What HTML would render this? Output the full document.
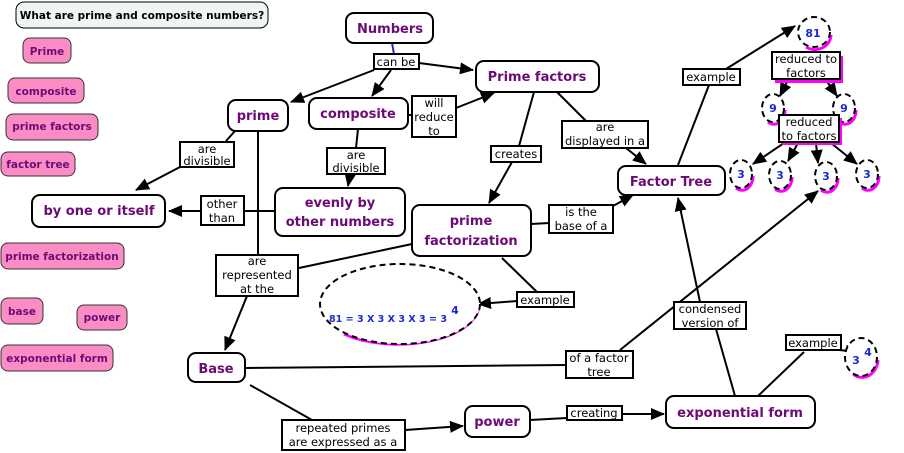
<!DOCTYPE html>
<html><head><meta charset="utf-8"><style>
html,body{margin:0;padding:0;background:#fff;width:904px;height:453px;overflow:hidden}
svg{display:block}
.n{fill:#fff;stroke:#000;stroke-width:2}
.nt{font-family:"DejaVu Sans",Verdana,sans-serif;font-weight:bold;font-size:13px;fill:#6e0a78;text-anchor:middle}
.p{fill:#fb8cc4;stroke:#333;stroke-width:1}
.pt{font-family:"DejaVu Sans",sans-serif;font-weight:bold;font-size:10.5px;fill:#6e0a78;text-anchor:middle}
.l{fill:#fff;stroke:#000;stroke-width:2}
.lt{font-family:"DejaVu Sans",sans-serif;font-size:11.5px;fill:#000;text-anchor:middle}
.c{stroke:#000;stroke-width:2;fill:none}
.a{stroke:#000;stroke-width:2;fill:none;marker-end:url(#ar)}
.d{fill:#fff;stroke:#000;stroke-width:2;stroke-dasharray:6,4}
.sh{fill:none;stroke:#f0f;stroke-width:3}
.ct{font-family:"DejaVu Sans",sans-serif;font-weight:bold;font-size:11px;fill:#1a2ad0;text-anchor:middle}
</style></head><body>
<svg width="904" height="453" viewBox="0 0 904 453" xmlns="http://www.w3.org/2000/svg">
<defs><marker id="ar" markerWidth="14" markerHeight="12" refX="13" refY="6" orient="auto" markerUnits="userSpaceOnUse"><path d="M0,0 L14,6 L0,12 z" fill="#000"/></marker></defs>

<!-- connectors -->
<line x1="392" y1="43" x2="394" y2="54" stroke="#1a2ad0" stroke-width="2"/>
<line class="a" x1="374" y1="70" x2="291" y2="102"/>
<line class="a" x1="391" y1="70" x2="372" y2="96"/>
<line class="a" x1="419" y1="63" x2="473" y2="70"/>
<line class="c" x1="408" y1="115" x2="412" y2="115"/>
<line class="a" x1="456" y1="108" x2="494" y2="93"/>
<line class="c" x1="235" y1="131" x2="226" y2="141"/>
<line class="a" x1="180" y1="167" x2="136" y2="190"/>
<line class="c" x1="358" y1="129" x2="356" y2="148"/>
<line class="a" x1="350" y1="175" x2="348" y2="186"/>
<line class="c" x1="275" y1="211" x2="244" y2="211"/>
<line class="a" x1="201" y1="211" x2="169" y2="211"/>
<line class="c" x1="258" y1="131" x2="258" y2="255"/>
<line class="c" x1="412" y1="244" x2="299" y2="268"/>
<line class="a" x1="247" y1="296" x2="225" y2="350"/>
<line class="c" x1="534" y1="92" x2="519" y2="146"/>
<line class="a" x1="512" y1="162" x2="489" y2="203"/>
<line class="c" x1="557" y1="92" x2="586" y2="121"/>
<line class="a" x1="626" y1="148" x2="646" y2="164"/>
<line class="c" x1="531" y1="224" x2="549" y2="223"/>
<line class="a" x1="613" y1="206" x2="633" y2="195"/>
<line class="c" x1="678" y1="165" x2="709" y2="85"/>
<line class="a" x1="726" y1="69" x2="795" y2="26"/>
<line class="c" x1="502" y1="258" x2="537" y2="292"/>
<line class="a" x1="517" y1="301" x2="478" y2="304"/>
<line class="c" x1="245" y1="368" x2="566" y2="365"/>
<line class="a" x1="620" y1="350" x2="818" y2="191"/>
<line class="c" x1="250" y1="385" x2="312" y2="420"/>
<line class="a" x1="405" y1="430" x2="463" y2="426"/>
<line class="c" x1="530" y1="420" x2="567" y2="418"/>
<line class="a" x1="622" y1="414" x2="664" y2="414"/>
<line class="c" x1="735" y1="396" x2="716" y2="329"/>
<line class="a" x1="700" y1="302" x2="678" y2="198"/>
<line class="c" x1="758" y1="396" x2="804" y2="352"/>
<line class="a" x1="839" y1="350" x2="859" y2="352"/>
<line class="a" x1="788" y1="80" x2="780" y2="96"/>
<line class="a" x1="826" y1="80" x2="837" y2="96"/>
<line class="a" x1="784" y1="143" x2="753" y2="164"/>
<line class="a" x1="798" y1="143" x2="788" y2="161"/>
<line class="a" x1="816" y1="143" x2="818" y2="163"/>
<line class="a" x1="831" y1="143" x2="857" y2="164"/>

<!-- title -->
<rect x="16" y="2" width="252" height="26" rx="8" fill="#eef5f5" stroke="#000" stroke-width="1"/>
<text x="142" y="19" style="font-family:'DejaVu Sans',sans-serif;font-weight:bold;font-size:10.5px;text-anchor:middle">What are prime and composite numbers?</text>

<!-- legend -->
<rect class="p" x="23" y="38" width="48" height="25" rx="7"/><text class="pt" x="47" y="55">Prime</text>
<rect class="p" x="8" y="78" width="76" height="25" rx="7"/><text class="pt" x="46" y="95">composite</text>
<rect class="p" x="6" y="114" width="92" height="26" rx="7"/><text class="pt" x="52" y="130">prime factors</text>
<rect class="p" x="1" y="152" width="74" height="24" rx="7"/><text class="pt" x="38" y="168">factor tree</text>
<rect class="p" x="1" y="243" width="123" height="26" rx="7"/><text class="pt" x="62" y="260">prime factorization</text>
<rect class="p" x="1" y="298" width="42" height="26" rx="7"/><text class="pt" x="22" y="315">base</text>
<rect class="p" x="77" y="305" width="50" height="25" rx="7"/><text class="pt" x="102" y="321">power</text>
<rect class="p" x="1" y="345" width="112" height="26" rx="7"/><text class="pt" x="57" y="362">exponential form</text>

<!-- main nodes -->
<rect class="n" x="346" y="13" width="87" height="30" rx="8"/><text class="nt" x="390" y="33">Numbers</text>
<rect class="n" x="228" y="100" width="60" height="31" rx="8"/><text class="nt" x="258" y="120">prime</text>
<rect class="n" x="309" y="98" width="99" height="31" rx="8"/><text class="nt" x="358" y="118">composite</text>
<rect class="n" x="476" y="61" width="123" height="31" rx="8"/><text class="nt" x="537" y="81">Prime factors</text>
<rect class="n" x="275" y="188" width="130" height="48" rx="8"/><text class="nt" x="340" y="207">evenly by</text><text class="nt" x="340" y="226">other numbers</text>
<rect class="n" x="32" y="195" width="133" height="32" rx="8"/><text class="nt" x="99" y="215">by one or itself</text>
<rect class="n" x="412" y="205" width="119" height="51" rx="8"/><text class="nt" x="471" y="225">prime</text><text class="nt" x="471" y="245">factorization</text>
<rect class="n" x="618" y="166" width="107" height="29" rx="8"/><text class="nt" x="671" y="186">Factor Tree</text>
<rect class="n" x="188" y="353" width="57" height="29" rx="8"/><text class="nt" x="216" y="373">Base</text>
<rect class="n" x="465" y="406" width="65" height="31" rx="8"/><text class="nt" x="497" y="426">power</text>
<rect class="n" x="666" y="396" width="149" height="32" rx="8"/><text class="nt" x="740" y="417">exponential form</text>

<!-- ellipse -->
<path class="sh" d="M 344 334 A 81 40 0 0 0 478 298"/>
<ellipse class="d" cx="400" cy="304" rx="80" ry="40"/>
<text x="329" y="322" textLength="118" lengthAdjust="spacingAndGlyphs" style="font-family:'DejaVu Sans',sans-serif;font-weight:bold;font-size:10px;fill:#1a2ad0">81 = 3 X 3 X 3 X 3 = 3</text>
<text class="ct" x="455" y="314">4</text>

<!-- circles -->
<g>
<path class="sh" d="M 806 47 A 16 15 0 0 0 831 35"/><ellipse class="d" cx="814" cy="32" rx="16" ry="15"/><text class="ct" x="813" y="37">81</text>
<path class="sh" d="M 768 122 A 11 14 0 0 0 785 110"/><ellipse class="d" cx="773" cy="108" rx="11" ry="14"/><text class="ct" x="773" y="112">9</text>
<path class="sh" d="M 839 122 A 11 14 0 0 0 856 110"/><ellipse class="d" cx="844" cy="108" rx="11" ry="14"/><text class="ct" x="844" y="112">9</text>
<path class="sh" d="M 736 188 A 11 14 0 0 0 753 176"/><ellipse class="d" cx="741" cy="174" rx="11" ry="14"/><text class="ct" x="741" y="178">3</text>
<path class="sh" d="M 775 189 A 11 14 0 0 0 792 177"/><ellipse class="d" cx="780" cy="175" rx="11" ry="14"/><text class="ct" x="780" y="179">3</text>
<path class="sh" d="M 821 190 A 11 14 0 0 0 838 178"/><ellipse class="d" cx="826" cy="176" rx="11" ry="14"/><text class="ct" x="826" y="180">3</text>
<path class="sh" d="M 862 188 A 11 14 0 0 0 879 176"/><ellipse class="d" cx="867" cy="174" rx="11" ry="14"/><text class="ct" x="867" y="178">3</text>
<path class="sh" d="M 853 374 A 16 19 0 0 0 878 360"/><ellipse class="d" cx="861" cy="357" rx="16" ry="19"/><text class="ct" x="856" y="364">3</text><text class="ct" x="868" y="356">4</text>
</g>

<!-- labels -->
<rect class="l" x="374" y="54" width="45" height="15"/><text class="lt" x="396" y="66">can be</text>
<rect class="l" x="412" y="96" width="44" height="41"/><text class="lt" x="434" y="107">will</text><text class="lt" x="434" y="121">reduce</text><text class="lt" x="434" y="135">to</text>
<rect class="l" x="180" y="142" width="54" height="25"/><text class="lt" x="207" y="153">are</text><text class="lt" x="207" y="165">divisible</text>
<rect class="l" x="327" y="148" width="58" height="26" /><text class="lt" x="356" y="159">are</text><text class="lt" x="356" y="172">divisible</text>
<rect class="l" x="201" y="196" width="43" height="29"/><text class="lt" x="222" y="208">other</text><text class="lt" x="222" y="222">than</text>
<rect class="l" x="491" y="146" width="50" height="16"/><text class="lt" x="516" y="158">creates</text>
<rect class="l" x="562" y="121" width="86" height="27"/><text class="lt" x="605" y="131">are</text><text class="lt" x="605" y="145">displayed in a</text>
<rect class="l" x="549" y="205" width="64" height="28"/><text class="lt" x="581" y="216">is the</text><text class="lt" x="581" y="230">base of a</text>
<rect class="l" x="683" y="69" width="57" height="16"/><text class="lt" x="711" y="81">example</text>
<rect x="775" y="56" width="68" height="27" fill="#f0f"/>
<rect class="l" x="772" y="52" width="68" height="27"/><text class="lt" x="806" y="63">reduced to</text><text class="lt" x="806" y="77">factors</text>
<rect x="782" y="118" width="60" height="27" fill="#f0f"/>
<rect class="l" x="779" y="115" width="60" height="27"/><text class="lt" x="809" y="126">reduced</text><text class="lt" x="809" y="140">to factors</text>
<rect class="l" x="216" y="255" width="82" height="41"/><text class="lt" x="257" y="265">are</text><text class="lt" x="257" y="279">represented</text><text class="lt" x="257" y="293">at the</text>
<rect class="l" x="517" y="292" width="57" height="15"/><text class="lt" x="545" y="304">example</text>
<rect class="l" x="674" y="302" width="72" height="27"/><text class="lt" x="710" y="313">condensed</text><text class="lt" x="710" y="327">version of</text>
<rect class="l" x="566" y="351" width="67" height="27"/><text class="lt" x="599" y="362">of a factor</text><text class="lt" x="599" y="376">tree</text>
<rect class="l" x="786" y="335" width="55" height="15"/><text class="lt" x="813" y="347">example</text>
<rect class="l" x="282" y="420" width="123" height="30"/><text class="lt" x="343" y="432">repeated primes</text><text class="lt" x="343" y="446">are expressed as a</text>
<rect class="l" x="567" y="406" width="55" height="14"/><text class="lt" x="594" y="417">creating</text>
</svg>
</body></html>
